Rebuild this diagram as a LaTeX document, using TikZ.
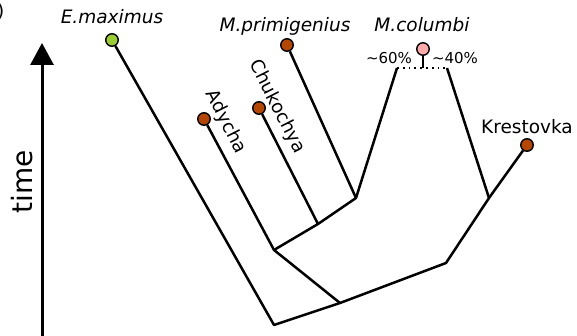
\documentclass[tikz,border=0pt]{standalone}
\usepackage{fontspec}
\setmainfont{DejaVu Sans}
\usetikzlibrary{arrows.meta}
\definecolor{maxgreen}{RGB}{154,205,50}
\definecolor{mamrust}{RGB}{180,70,0}
\definecolor{colpink}{RGB}{255,170,170}
\tikzset{
  leaf/.style={circle, draw, line width=1.4pt, inner sep=0pt, minimum size=12.5pt},
  branch/.style={line width=2.5pt, line join=round},
  taxon/.style={inner sep=0pt, font=\fontsize{18.5}{22}\selectfont},
  share/.style={inner sep=0pt, anchor=base, font=\fontsize{15}{18}\selectfont},
  timeaxis/.style={line width=3pt, -{Triangle[width=23pt,length=22pt]}},
}

\begin{document}
\begin{tikzpicture}[x=1pt,y=1pt]
  \useasboundingbox (0,0) rectangle (577,336);

  % panel letter, cut at the edge
  \node[taxon, anchor=base east] (panel) at (4.5,318) {)};

  % time axis
  \coordinate (t0) at (42,-4);
  \coordinate (t1) at (42,293);
  \draw[timeaxis] (t0) -- (t1);
  \node[rotate=90, inner sep=0pt, font=\fontsize{28}{32}\selectfont] (time) at (22,154) {time};

  % leaves
  \node[leaf, fill=maxgreen] (emax) at (112,296) {};
  \node[leaf, fill=mamrust] (prim) at (287,291) {};
  \node[leaf, fill=mamrust] (chuk) at (259,228) {};
  \node[leaf, fill=mamrust] (adycha) at (204,217) {};
  \node[leaf, fill=colpink] (colum) at (423,287) {};
  \node[leaf, fill=mamrust] (krest) at (527,191) {};

  % leaf labels
  \node[taxon, anchor=base] (emaxlab) at (112,312) {\itshape E.maximus};
  \node[taxon, anchor=base] (primlab) at (285,304) {\itshape M.primigenius};
  \node[taxon, anchor=base] (columlab) at (422,304) {\itshape M.columbi};
  \node[taxon, anchor=base] (krestlab) at (527,202) {Krestovka};
  \node[taxon, rotate=-63] (chuklab) at (277,229) {Chukochya};
  \node[taxon, rotate=-63] (adychalab) at (226,214) {Adycha};
  \node[share] (p60) at (389,272) {\textasciitilde 60\%};
  \node[share] (p40) at (455,272) {\textasciitilde 40\%};

  % branch points
  \coordinate (root) at (274,11);
  \coordinate (n1) at (340,33);
  \coordinate (n2) at (274,86);
  \coordinate (n3) at (318,112);
  \coordinate (n4) at (356,138);
  \coordinate (n5) at (446,73);
  \coordinate (n6) at (489,138);
  \coordinate (c60) at (397,268);
  \coordinate (c40) at (447,268);
  \coordinate (cmid) at (423,268);

  % branches
  \draw[branch] (emax) -- (root) -- (n1) -- (n5) -- (n6) -- (krest);
  \draw[branch] (n1) -- (n2) -- (adycha);
  \draw[branch] (n2) -- (n3) -- (chuk);
  \draw[branch] (n3) -- (n4) -- (prim);
  \draw[branch] (n4) -- (c60);
  \draw[branch] (n6) -- (c40);
  \draw[line width=1.6pt, dash pattern=on 1.8pt off 4pt] (c60) -- (c40);
  \draw[line width=1.6pt] (colum) -- (cmid);
\end{tikzpicture}
\end{document}
